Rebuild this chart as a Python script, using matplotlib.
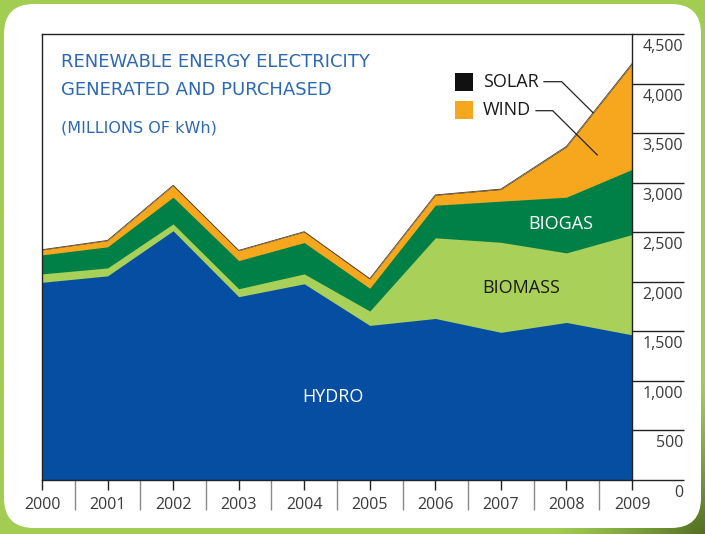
import numpy as np
import matplotlib
matplotlib.use("Agg")
import matplotlib.pyplot as plt
from matplotlib.patches import FancyBboxPatch, Rectangle

# ---- data (millions of kWh) ----
years = [2000, 2001, 2002, 2003, 2004, 2005, 2006, 2007, 2008, 2009]
hydro = [1995, 2060, 2515, 1850, 1980, 1560, 1630, 1490, 1590, 1465]
biomass = [85, 80, 70, 80, 100, 145, 814, 909, 702, 1012]
biogas = [192, 213, 269, 284, 316, 230, 329, 415, 562, 657]
wind = [50, 63, 118, 101, 108, 94, 101, 118, 508, 1062]
solar = [2, 2, 2, 2, 2, 3, 3, 4, 5, 6]
y_ticks = [0, 500, 1000, 1500, 2000, 2500, 3000, 3500, 4000, 4500]
y_tick_labels = ["0", "500", "1,000", "1,500", "2,000", "2,500", "3,000", "3,500", "4,000", "4,500"]
series_names = ["HYDRO", "BIOMASS", "BIOGAS", "WIND", "SOLAR"]

colors = {
    "HYDRO": "#054EA2",
    "BIOMASS": "#A9D15A",
    "BIOGAS": "#008047",
    "WIND": "#F7A71E",
    "SOLAR": "#111111",
}
FONT = ["Open Sans", "DejaVu Sans"]
TFONT = ["DejaVu Sans"]
W, H = 705, 534

fig = plt.figure(figsize=(W / 100, H / 100), dpi=100)

# ---- background: green with darker bottom-right corner, white rounded panel ----
bg = fig.add_axes([0, 0, 1, 1], zorder=0)
bg.set_xlim(0, W)
bg.set_ylim(H, 0)
bg.axis("off")
gx, gy = np.meshgrid(np.linspace(0, 1, 240), np.linspace(0, 1, 180))
d = np.sqrt(((1 - gx) * 1.3) ** 2 + ((1 - gy) * 1.0) ** 2)
t = np.clip(1 - d / 0.28, 0, 1) ** 1.2
c1 = np.array([162, 205, 82]) / 255.0
c2 = np.array([84, 112, 36]) / 255.0
img = c1[None, None, :] * (1 - t[..., None]) + c2[None, None, :] * t[..., None]
bg.imshow(img, extent=[0, W, H, 0], aspect="auto", interpolation="bilinear")
bg.add_patch(FancyBboxPatch((4, 4), 697, 524, boxstyle="round,pad=0,rounding_size=30",
                            facecolor="white", edgecolor="none"))


def px(x, y):
    """pixel (from top-left) -> figure fraction"""
    return x / W, 1 - y / H


# ---- main axes ----
left, right, top, bottom = 42, 632, 34.1, 480
ax = fig.add_axes([left / W, 1 - bottom / H, (right - left) / W, (bottom - top) / H], zorder=2)
ax.set_facecolor("none")
ax.set_xlim(years[0], years[-1])
ax.set_ylim(0, 4500)

layers = [hydro, biomass, biogas, wind, solar]
cum = np.cumsum(np.array(layers, dtype=float), axis=0)
x = np.array(years)
# draw from top layer down, each from zero, to avoid seams
for i in range(len(layers) - 1, -1, -1):
    name = series_names[i]
    ax.fill_between(x, 0, cum[i], color=colors[name], linewidth=0, zorder=2)
# thin dark edge on top (solar)
ax.plot(x, cum[-1], color="#4a3a20", lw=0.6, zorder=3)

for s in ["left", "top", "bottom", "right"]:
    ax.spines[s].set_color("#222222")
    ax.spines[s].set_linewidth(1.0)
    ax.spines[s].set_zorder(5)

# x ticks: short at years, long separators between years
ax.set_xticks(years)
ax.set_xticklabels([str(y) for y in years], fontfamily=FONT, fontsize=11.5, color="#3a3a3a")
ax.tick_params(axis="x", which="major", direction="out", length=7.2, width=1.0,
               color="#222222", pad=5)
ax.set_xticks([y + 0.5 for y in years[:-1]], minor=True)
ax.tick_params(axis="x", which="minor", direction="out", length=21.6, width=1.0,
               color="#8a8a8a")
ax.set_yticks([])

# y ticks on right: lines extending to the right, labels below lines
ytr = ax.get_yaxis_transform()
ext = (684 - right) / (right - left)
for v, lab in zip(y_ticks, y_tick_labels):
    ax.plot([1, 1 + ext], [v, v], transform=ytr, color="#222222", lw=1.0, clip_on=False,
            zorder=5, solid_capstyle="butt")
    ax.annotate(lab, xy=(1 + ext, v), xycoords=ytr, xytext=(-1, -13),
                textcoords="offset pixels", ha="right", va="center",
                fontfamily=FONT, fontsize=11.5, color="#3a3a3a", annotation_clip=False)

# ---- series labels ----
fig.text(*px(333, 397), "HYDRO", ha="center", va="center", color="white",
         fontfamily=FONT, fontsize=13, zorder=6)
fig.text(*px(521, 288), "BIOMASS", ha="center", va="center", color="#1a1a1a",
         fontfamily=FONT, fontsize=13, zorder=6)
fig.text(*px(561, 224), "BIOGAS", ha="center", va="center", color="white",
         fontfamily=FONT, fontsize=13, zorder=6)

# ---- title ----
title_color = "#2D68B3"
fig.text(*px(61, 62), "RENEWABLE ENERGY ELECTRICITY", ha="left", va="center",
         color=title_color, fontfamily=TFONT, fontsize=13, zorder=6)
fig.text(*px(61, 90), "GENERATED AND PURCHASED", ha="left", va="center",
         color=title_color, fontfamily=TFONT, fontsize=13, zorder=6)
fig.text(*px(61, 128), "(MILLIONS OF kWh)", ha="left", va="center",
         color=title_color, fontfamily=TFONT, fontsize=11.5, zorder=6)

# ---- legend with leader lines ----
for (nm, y0) in [("SOLAR", 73), ("WIND", 101)]:
    x0f, y0f = px(455, y0 + 18)
    fig.patches.append(Rectangle((x0f, y0f), 18 / W, 18 / H, transform=fig.transFigure,
                                 facecolor=colors[nm], edgecolor="none", zorder=6))
    fig.text(*px(483, y0 + 9), nm, ha="left", va="center", color="#1a1a1a",
             fontfamily=FONT, fontsize=13, zorder=6)

leaders = [
    [(544, 81.7), (561.7, 81.7), (593, 112.7)],
    [(536, 110.7), (552.7, 110.7), (597.3, 155)],
]
for pts in leaders:
    xs = [p[0] / W for p in pts]
    ys = [1 - p[1] / H for p in pts]
    fig.lines.append(plt.Line2D(xs, ys, transform=fig.transFigure, color="#222222",
                                lw=0.9, zorder=7))

fig.savefig("out.png", dpi=100)
